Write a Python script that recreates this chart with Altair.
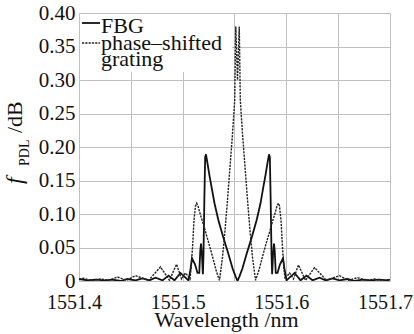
import altair as alt
import pandas as pd

# ---------------- data ----------------
fbg_wl = [1551.4000, 1551.4082, 1551.4159, 1551.4246, 1551.4323, 1551.4400, 1551.4468,
          1551.4545, 1551.4613, 1551.4680, 1551.4738, 1551.4806, 1551.4863, 1551.4921,
          1551.4979, 1551.5056, 1551.5076, 1551.5090, 1551.5119, 1551.5143, 1551.5160,
          1551.5170, 1551.5177, 1551.5186, 1551.5195, 1551.5201, 1551.5209, 1551.5217,
          1551.5225, 1551.5240, 1551.5259, 1551.5280, 1551.5307, 1551.5344, 1551.5394,
          1551.5440, 1551.5481, 1551.5510, 1551.5529, 1551.5548, 1551.5577, 1551.5618,
          1551.5664, 1551.5714, 1551.5751, 1551.5778, 1551.5799, 1551.5818, 1551.5833,
          1551.5841, 1551.5849, 1551.5857, 1551.5863, 1551.5872, 1551.5881, 1551.5888,
          1551.5898, 1551.5915, 1551.5939, 1551.5968, 1551.5982, 1551.6002, 1551.6079,
          1551.6137, 1551.6195, 1551.6253, 1551.6320, 1551.6378, 1551.6445, 1551.6513,
          1551.6590, 1551.6658, 1551.6735, 1551.6812, 1551.6899, 1551.6976, 1551.7000]
fbg_val = [0.003, 0.001, 0.002, 0.001, 0.002, 0.000, 0.003,
           0.001, 0.004, 0.001, 0.005, 0.001, 0.008, 0.001,
           0.012, 0.001, 0.018, 0.034, 0.025, 0.012, 0.012,
           0.045, 0.056, 0.040, 0.010, 0.040, 0.120, 0.185,
           0.189, 0.175, 0.157, 0.139, 0.116, 0.091, 0.064,
           0.041, 0.019, 0.007, 0.000, 0.007, 0.019, 0.041,
           0.064, 0.091, 0.116, 0.140, 0.158, 0.176, 0.189,
           0.185, 0.120, 0.040, 0.010, 0.040, 0.056, 0.045,
           0.012, 0.012, 0.025, 0.034, 0.018, 0.001, 0.012,
           0.001, 0.008, 0.001, 0.005, 0.001, 0.004, 0.001,
           0.003, 0.000, 0.002, 0.001, 0.002, 0.001, 0.002]

ps_wl = [1551.4000, 1551.4044, 1551.4121, 1551.4208, 1551.4285, 1551.4372, 1551.4458,
         1551.4545, 1551.4671, 1551.4786, 1551.4873, 1551.4941, 1551.4989, 1551.5027,
         1551.5071, 1551.5082, 1551.5095, 1551.5109, 1551.5124, 1551.5135, 1551.5148,
         1551.5167, 1551.5191, 1551.5216, 1551.5249, 1551.5280, 1551.5326, 1551.5355,
         1551.5384, 1551.5406, 1551.5432, 1551.5457, 1551.5481, 1551.5502, 1551.5512,
         1551.5529, 1551.5546, 1551.5556, 1551.5577, 1551.5601, 1551.5626, 1551.5652,
         1551.5674, 1551.5703, 1551.5732, 1551.5778, 1551.5809, 1551.5843, 1551.5867,
         1551.5891, 1551.5910, 1551.5923, 1551.5934, 1551.5949, 1551.5963, 1551.5976,
         1551.5987, 1551.6031, 1551.6069, 1551.6117, 1551.6185, 1551.6272, 1551.6388,
         1551.6513, 1551.6600, 1551.6687, 1551.6773, 1551.6851, 1551.6937, 1551.7000]
ps_val = [0.003, 0.004, 0.001, 0.003, 0.001, 0.006, 0.001,
          0.008, 0.001, 0.021, 0.001, 0.025, 0.003, 0.012,
          0.003, 0.020, 0.050, 0.090, 0.112, 0.116, 0.112,
          0.101, 0.089, 0.076, 0.058, 0.041, 0.014, 0.001,
          0.035, 0.071, 0.120, 0.171, 0.220, 0.270, 0.380,
          0.300, 0.380, 0.270, 0.220, 0.171, 0.120, 0.071,
          0.035, 0.001, 0.014, 0.041, 0.058, 0.076, 0.089,
          0.101, 0.112, 0.116, 0.112, 0.090, 0.050, 0.020,
          0.003, 0.012, 0.003, 0.024, 0.001, 0.020, 0.001,
          0.008, 0.001, 0.005, 0.001, 0.003, 0.001, 0.002]

x_ticks = [1551.4, 1551.45, 1551.5, 1551.55, 1551.6, 1551.65, 1551.7]
y_ticks = [0.0, 0.05, 0.10, 0.15, 0.20, 0.25, 0.30, 0.35, 0.40]
x_domain = [1551.4, 1551.7]
y_domain = [0.0, 0.40]

legend_labels = ["FBG", "phase\u2013shifted", "grating"]
y_title_parts = ["f", "PDL", "/dB"]
x_title = "Wavelength /nm"

FONT = "Liberation Serif"
W, H = 311, 268

fbg = pd.DataFrame({"wl": fbg_wl, "v": fbg_val})
ps = pd.DataFrame({"wl": ps_wl, "v": ps_val})

xs = alt.Scale(domain=x_domain, nice=False, zero=False)
ys = alt.Scale(domain=y_domain, nice=False, zero=False)

xaxis = alt.Axis(values=x_ticks,
                 labelExpr="round(datum.value*100) % 10 == 0 ? format(datum.value, '.1f') : ''",
                 title=x_title, grid=True, ticks=False, domain=False,
                 labelFont=FONT, labelFontSize=20, labelColor="#111", labelPadding=11,
                 labelOffset=-5,
                 titleFont=FONT, titleFontSize=22, titleFontWeight="normal", titleColor="#111",
                 titleX=147, titleY=45, titleBaseline="alphabetic", titleAlign="center",
                 labelFlush=False, labelOverlap=False,
                 gridColor="#c0c0c0", gridWidth=1)
yaxis = alt.Axis(values=y_ticks,
                 labelExpr="datum.value == 0 ? '0' : format(datum.value, '.2f')",
                 title=None, grid=True, ticks=False, domain=False,
                 labelFont=FONT, labelFontSize=21, labelColor="#111", labelPadding=4,
                 labelFlush=False, labelOverlap=False,
                 gridColor="#c0c0c0", gridWidth=1)

solid = alt.Chart(fbg).mark_line(color="#111", strokeWidth=1.8, clip=True).encode(
    x=alt.X("wl:Q", scale=xs, axis=xaxis),
    y=alt.Y("v:Q", scale=ys, axis=yaxis),
)
dashed = alt.Chart(ps).mark_line(color="#222", strokeWidth=1.4, strokeDash=[2.2, 1.1],
                                 clip=True).encode(
    x=alt.X("wl:Q", scale=xs, axis=xaxis),
    y=alt.Y("v:Q", scale=ys, axis=yaxis),
)

one = pd.DataFrame({"k": [0]})

legend_bg = alt.Chart(one).mark_rect(color="white").encode(
    x=alt.value(1), x2=alt.value(153), y=alt.value(1), y2=alt.value(59))
leg_solid = alt.Chart(one).mark_rule(color="#111", strokeWidth=1.8).encode(
    x=alt.value(3), x2=alt.value(21), y=alt.value(10))
leg_dash = alt.Chart(one).mark_rule(color="#222", strokeWidth=1.4, strokeDash=[2.2, 1.1]).encode(
    x=alt.value(3), x2=alt.value(21), y=alt.value(30))


def label(txt, x, y, size=22, **kw):
    return alt.Chart(pd.DataFrame({"t": [txt]})).mark_text(
        font=FONT, fontSize=size, color="#111", align="left", baseline="alphabetic", **kw
    ).encode(text="t:N", x=alt.value(x), y=alt.value(y))


leg_t1 = label(legend_labels[0], 22, 20)
leg_t2 = label(legend_labels[1], 22, 37)
leg_t3 = label(legend_labels[2], 22, 53)

yt_f = label(y_title_parts[0], -57, 171, size=24, angle=270, fontStyle="italic")
yt_sub = label(y_title_parts[1], -50, 153, size=14, angle=270)
yt_db = label(y_title_parts[2], -57, 120, size=22, angle=270)

chart = alt.layer(
    solid, dashed, legend_bg, leg_solid, leg_dash, leg_t1, leg_t2, leg_t3, yt_f, yt_sub, yt_db
).properties(
    width=W, height=H,
    autosize=alt.AutoSizeParams(type="none"),
    padding={"left": 79, "top": 13, "right": 24, "bottom": 53},
).configure_view(stroke="#8a8a8a", strokeWidth=1).configure(background="white")

chart.save("out.html", embed_options={"renderer": "svg", "actions": False})
